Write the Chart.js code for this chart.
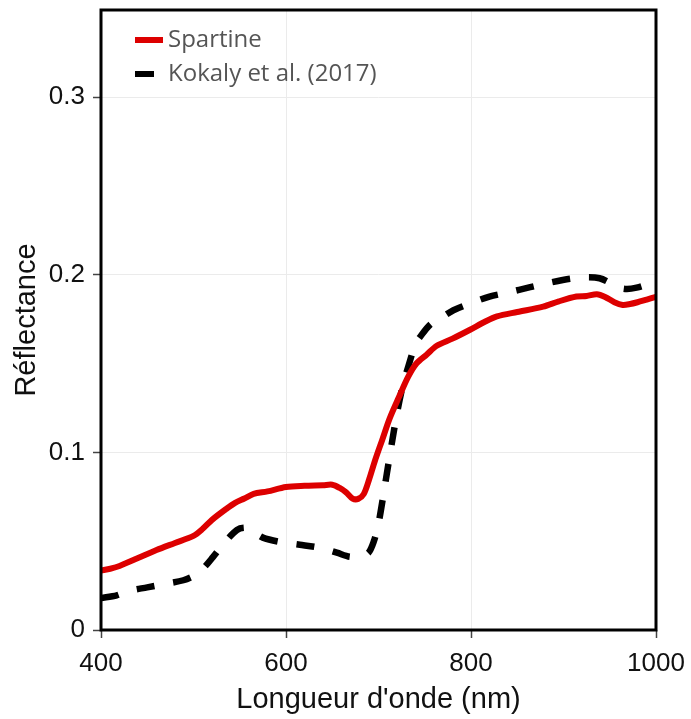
<!DOCTYPE html>
<html>
<head>
<meta charset="utf-8">
<script src="https://cdn.jsdelivr.net/npm/chart.js@4.4.1/dist/chart.umd.min.js"></script>
<style>
  html, body { margin: 0; padding: 0; background: #fff; }
  #wrap { width: 691px; height: 719px; }
</style>
</head>
<body>
<div id="wrap"><canvas id="c" width="691" height="719"></canvas></div>
<script>
// Spectral reflectance of Spartina versus the Kokaly et al. (2017) library spectrum
const spartineWl = [400, 410, 420, 440, 460, 480, 500, 510, 520, 535, 545, 555, 565, 580, 600, 620, 640, 650, 658, 665, 672, 678, 684, 690, 696, 704, 712, 722, 732, 741, 752, 763, 780, 799, 815, 828, 850, 878, 895, 914, 925, 936, 945, 955, 964, 972, 980, 990, 1000];
const spartineRefl = [0.0335, 0.0345, 0.036, 0.0405, 0.045, 0.049, 0.053, 0.057, 0.062, 0.068, 0.0716, 0.074, 0.0766, 0.078, 0.0805, 0.0812, 0.0815, 0.0818, 0.080, 0.0775, 0.074, 0.0738, 0.0765, 0.085, 0.095, 0.107, 0.119, 0.131, 0.1425, 0.150, 0.155, 0.160, 0.164, 0.169, 0.1735, 0.1765, 0.179, 0.182, 0.185, 0.1877, 0.188, 0.189, 0.1875, 0.1845, 0.183, 0.1835, 0.1845, 0.186, 0.1875];

const kokalyWl = [400, 417, 430, 450, 470, 489, 502, 512, 521, 535, 547, 556, 564, 575, 593, 615, 637, 655, 669, 680, 689, 695, 700, 705, 709, 715, 720, 726, 732, 740, 745, 756, 770, 781, 800, 820, 840, 864, 885, 907, 925, 939, 950, 958, 968, 979, 990, 1000];
const kokalyRefl = [0.018, 0.0195, 0.022, 0.024, 0.026, 0.028, 0.031, 0.0355, 0.041, 0.050, 0.0563, 0.0575, 0.0555, 0.052, 0.0496, 0.048, 0.0462, 0.0435, 0.0412, 0.042, 0.0434, 0.050, 0.060, 0.075, 0.088, 0.107, 0.122, 0.137, 0.148, 0.161, 0.165, 0.172, 0.1765, 0.180, 0.184, 0.1877, 0.190, 0.193, 0.1955, 0.1977, 0.1985, 0.198, 0.1955, 0.193, 0.192, 0.1927, 0.1945, 0.1975];

const xTicks = [400, 600, 800, 1000];
const yTicks = [0, 0.1, 0.2, 0.3];
const seriesNames = ['Spartine', 'Kokaly et al. (2017)'];

const toPoints = (xs, ys) => xs.map((x, i) => ({ x: x, y: ys[i] }));

const tickFont = { family: '"Liberation Sans", Arial, sans-serif', size: 26 };
const titleFont = { family: '"Liberation Sans", Arial, sans-serif', size: 29 };

// Frame around the plotting area and a legend drawn inside it
const framePlugin = {
  id: 'frame',
  afterDatasetsDraw(chart) {
    const { ctx, chartArea: a } = chart;
    ctx.save();
    ctx.strokeStyle = '#000';
    ctx.lineWidth = 3;
    ctx.strokeRect(a.left, a.top, a.right - a.left, a.bottom - a.top);
    ctx.restore();
  },
  afterDraw(chart) {
    const { ctx, chartArea: a } = chart;
    const ds = chart.data.datasets;
    ctx.save();
    ctx.font = '24px "Open Sans", sans-serif';
    ctx.textBaseline = 'middle';
    const x0 = a.left + 34;
    const rows = [a.top + 30, a.top + 64];
    ds.forEach((d, i) => {
      const y = rows[i];
      ctx.strokeStyle = d.borderColor;
      ctx.lineWidth = 6;
      ctx.lineCap = 'butt';
      ctx.beginPath();
      ctx.moveTo(x0, y);
      ctx.lineTo(x0 + (d.borderDash && d.borderDash.length ? 19 : 28), y);
      ctx.stroke();
      ctx.fillStyle = '#555';
      ctx.fillText(d.label, x0 + 33, y);
    });
    ctx.restore();
  }
};

// keep the plot box fixed regardless of tick label overhang
const noOverhang = s => {
  s.paddingTop = 0;
  s.paddingBottom = 0;
  s.paddingLeft = 0;
  s.paddingRight = 0;
};

new Chart(document.getElementById('c'), {
  type: 'line',
  data: {
    datasets: [
      {
        label: seriesNames[0],
        data: toPoints(spartineWl, spartineRefl),
        borderColor: '#dd0000',
        borderWidth: 6,
        pointRadius: 0,
        tension: 0.3,
        fill: false
      },
      {
        label: seriesNames[1],
        data: toPoints(kokalyWl, kokalyRefl),
        borderColor: '#000000',
        borderWidth: 6.5,
        borderDash: [18, 19],
        pointRadius: 0,
        tension: 0.3,
        fill: false
      }
    ]
  },
  options: {
    responsive: false,
    animation: false,
    devicePixelRatio: 1,
    layout: { padding: { left: 0, right: 35, top: 10, bottom: 0 } },
    plugins: {
      legend: { display: false },
      tooltip: { enabled: false }
    },
    scales: {
      x: {
        type: 'linear',
        min: 400,
        max: 1000,
        afterBuildTicks: s => { s.ticks = xTicks.map(v => ({ value: v })); },
        afterFit: s => { s.height = 89; noOverhang(s); },
        ticks: {
          font: tickFont,
          color: '#111',
          padding: 10,
          maxRotation: 0,
          callback: v => String(v)
        },
        grid: {
          color: '#ebebeb',
          lineWidth: 1,
          tickLength: 8,
          tickColor: '#444',
          tickWidth: 1.5
        },
        border: { display: false },
        title: {
          display: true,
          text: "Longueur d'onde (nm)",
          font: titleFont,
          color: '#111',
          padding: { top: 0, bottom: 2 }
        }
      },
      y: {
        type: 'linear',
        min: 0,
        max: 0.349,
        afterBuildTicks: s => { s.ticks = yTicks.map(v => ({ value: v })); },
        afterFit: s => { s.width = 101; noOverhang(s); },
        ticks: {
          font: tickFont,
          color: '#111',
          padding: 8,
          callback: v => (v === 0 ? '0' : v.toFixed(1))
        },
        grid: {
          color: '#ebebeb',
          lineWidth: 1,
          tickLength: 8,
          tickColor: '#444',
          tickWidth: 1.5
        },
        border: { display: false },
        title: {
          display: true,
          text: 'Réflectance',
          font: titleFont,
          color: '#111',
          padding: { top: 10, bottom: 0 }
        }
      }
    }
  },
  plugins: [framePlugin]
});
</script>
</body>
</html>
